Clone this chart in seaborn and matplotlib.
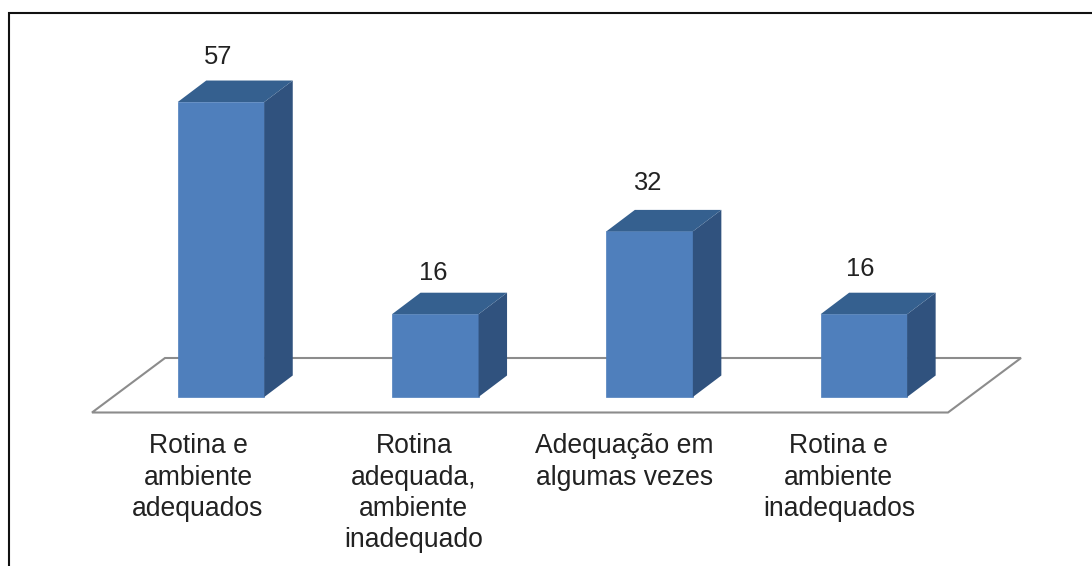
import numpy as np
import pandas as pd
import matplotlib
matplotlib.use("Agg")
import matplotlib.pyplot as plt
from matplotlib.patches import Polygon, Rectangle
import seaborn as sns

categories = ["Rotina e\nambiente\nadequados",
              "Rotina\nadequada,\nambiente\ninadequado",
              "Adequação em\nalgumas vezes",
              "Rotina e\nambiente\ninadequados"]
values = [57, 16, 32, 16]

# layout (pixels in the 1092x566 picture)
W, H = 1092, 566
CENTER0, STEP = 221.0, 214.3
BASE_Y, PX_PER_UNIT = 397.0, 5.175
BAR_W = 86.5
DEPTH_X, DEPTH_Y = 28.5, 21.5
LABEL_SHIFT = [(-2.5, 23.5), (-2, 19.5), (-2, 26.5), (-4, 23.5)]
TICK_SHIFT = [23, 21.5, 25.5, 25]
FS = 26.5 * 0.72
FS_VALUE = 25.5 * 0.72

sns.set_theme(style="white")
plt.rcParams["font.family"] = ["Liberation Sans", "DejaVu Sans"]

fig = plt.figure(figsize=(W / 100, H / 100), dpi=100, facecolor="white")
ax = fig.add_axes([9 / W, (H - 413) / H, (W - 9) / W, 400 / H])
ax.set_facecolor("none")

df = pd.DataFrame({"cat": categories, "val": values})
sns.barplot(data=df, x="cat", y="val", color="#4f7fbc", saturation=1,
            width=BAR_W / STEP, edgecolor="#4f7fbc", linewidth=0.5, ax=ax, zorder=3)

ax.set_xlim((9 - CENTER0) / STEP, (W - CENTER0) / STEP)
ax.set_ylim((BASE_Y - 413) / PX_PER_UNIT, (BASE_Y - 13) / PX_PER_UNIT)
for s in ax.spines.values():
    s.set_visible(False)
ax.set_xlabel("")
ax.set_ylabel("")
ax.set_yticks([])

# category labels sit under the front edge of the floor
ax.set_xticks(np.arange(len(categories)) - np.array(TICK_SHIFT) / STEP)
ax.set_xticklabels(categories, fontsize=FS, color="#222222", linespacing=1.27)
ax.tick_params(axis="x", length=0, pad=14.5)

dx = DEPTH_X / STEP
dy = DEPTH_Y / PX_PER_UNIT
half = BAR_W / STEP / 2

# floor
px = lambda v: (v - CENTER0) / STEP
py = lambda v: (BASE_Y - v) / PX_PER_UNIT
floor = [(px(92), py(412.5)), (px(165), py(358)), (px(1021), py(358)), (px(948), py(412.5))]
ax.add_patch(Polygon(floor, closed=True, facecolor="white", edgecolor="#8c8c8c",
                     linewidth=1.5, zorder=1, clip_on=False))

# 3D sides and tops, derived from the bar values
for i, v in enumerate(values):
    l, r = i - half, i + half
    ax.add_patch(Polygon([(r, 0), (r + dx, dy), (r + dx, v + dy), (r, v)],
                         closed=True, facecolor="#30527e", edgecolor="none", zorder=3.1))
    ax.add_patch(Polygon([(l, v), (l + dx, v + dy), (r + dx, v + dy), (r, v)],
                         closed=True, facecolor="#35608f", edgecolor="none", zorder=3.1))
    sx, sy = LABEL_SHIFT[i]
    ax.annotate(str(v), (i, v + dy), xytext=(sx * 0.72, sy * 0.72),
                textcoords="offset points", ha="center", va="center",
                fontsize=FS_VALUE, color="#222222", annotation_clip=False)

# outer frame of the picture
fig.add_artist(Rectangle((8.5 / W, -0.05), 1.1, (H - 12.5) / H + 0.05,
                         transform=fig.transFigure, facecolor="none",
                         edgecolor="#111111", linewidth=1.5, clip_on=True))

fig.savefig("out.png", dpi=100, facecolor="white")
